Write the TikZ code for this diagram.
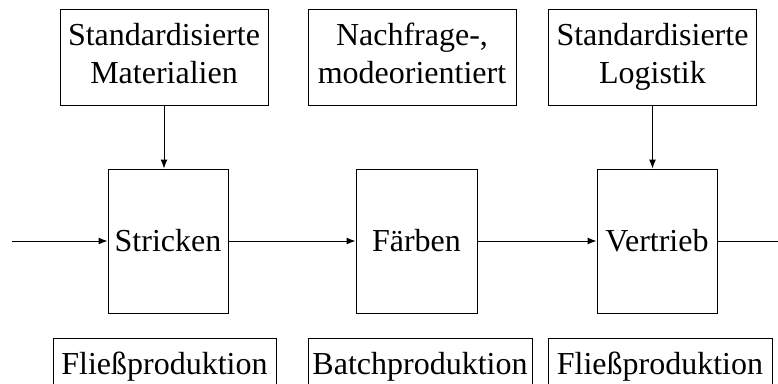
\documentclass[tikz,border=0pt]{standalone}
\usepackage{fontspec}
\setmainfont{Liberation Serif}
\usetikzlibrary{arrows.meta}
\tikzset{
    box/.style={draw,line width=1pt,inner sep=2pt,align=center,font=\fontsize{32}{38}\selectfont},
    topbox/.style={box,minimum width=208pt,minimum height=96pt,text depth=7pt},
    flow/.style={line width=1pt,-{Latex[length=9pt,width=7pt]}}
}
\begin{document}
\begin{tikzpicture}[x=1pt,y=-1pt]
                \useasboundingbox (0,0) rectangle (778,383);
                \node[topbox] (mat) at (164,57) {Standardisierte\\Materialien};
                \node[topbox] (mode) at (412,57) {Nachfrage-,\\modeorientiert};
                \node[topbox] (log) at (652.5,57) {Standardisierte\\Logistik};
                \node[box,minimum width=120pt,minimum height=144pt] (stricken) at (168,241) {Stricken};
                \node[box,minimum width=121pt,minimum height=144pt] (faerben) at (416.5,241) {Färben};
                \node[box,minimum width=120pt,minimum height=144pt] (vertrieb) at (657,241) {Vertrieb};
                \node[box,minimum width=223pt,minimum height=56pt,anchor=north] (fliess1) at (164.5,338) {Fließproduktion};
                \node[box,minimum width=224pt,minimum height=56pt,anchor=north] (batch) at (420,338) {Batchproduktion};
                \node[box,minimum width=224pt,minimum height=56pt,anchor=north] (fliess2) at (660,338) {Fließproduktion};
                \coordinate (in) at (12,241);
                \coordinate (out) at (778,241);
                \draw[flow] (in) -- (stricken.west);
                \draw[flow] (stricken.east) -- (faerben.west);
                \draw[flow] (faerben.east) -- (vertrieb.west);
                \draw[line width=1pt] (vertrieb.east) -- (out);
                \draw[flow] (mat.south) -- (mat.south |- stricken.north);
                \draw[flow] (log.south) -- (log.south |- vertrieb.north);
            \end{tikzpicture}
\end{document}
